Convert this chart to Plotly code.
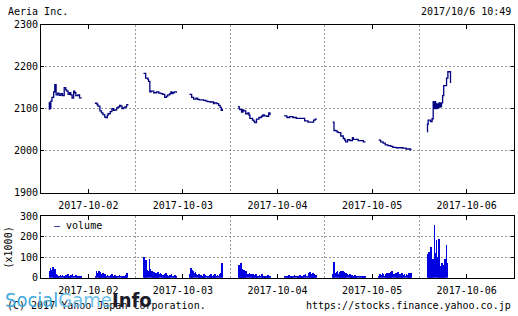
import plotly.graph_objects as go

# ---------------- data ----------------
days = ["2017-10-02", "2017-10-03", "2017-10-04", "2017-10-05", "2017-10-06"]

# intraday price (step line); None = lunch break
t_1002 = ["09:00","09:02","09:04","09:06","09:09","09:14","09:22","09:27","09:33","09:40","09:47","09:55",
          "10:02","10:10","10:17","10:22","10:28","10:35","10:40","10:46","10:53","10:58","11:03","11:13",
          "11:20","11:30",None,
          "12:30","12:40","12:44","12:53","13:00","13:07","13:15","13:20","13:27","13:30","13:40","13:48",
          "13:55","14:02","14:10","14:16","14:23","14:29","14:34","14:40","14:47","14:55","15:00"]
p_1002 = [2115,2099,2112,2101,2118,2127,2140,2157,2133,2137,2132,2136,
          2131,2150,2145,2142,2134,2138,2133,2125,2142,2138,2131,2133,
          2126,2126,None,
          2113,2110,2106,2095,2090,2086,2080,2079,2084,2088,2093,2100,
          2096,2097,2102,2104,2108,2106,2100,2102,2104,2109,2111]

t_1003 = ["09:00","09:10","09:20","09:23","09:29","09:35","09:47","10:00","10:10","10:20","10:28","10:37",
          "10:45","10:51","11:00","11:05","11:10","11:14","11:20","11:30",None,
          "12:30","12:40","12:49","13:00","13:07","13:15","13:21","13:35","13:45","13:53","14:05","14:11",
          "14:20","14:25","14:35","14:43","14:50","14:55","15:00"]
p_1003 = [2184,2173,2170,2165,2140,2142,2138,2140,2137,2136,2134,2127,
          2130,2133,2136,2140,2136,2138,2140,2138,None,
          2134,2127,2123,2125,2122,2121,2121,2120,2118,2117,2116,2116,
          2112,2114,2112,2108,2103,2096,2099]

t_1004 = ["09:00","09:05","09:08","09:16","09:22","09:26","09:35","09:45","09:50","09:54","10:06","10:12",
          "10:16","10:24","10:35","10:47","10:53","11:00","11:10","11:20","11:25","11:30",None,
          "12:30","12:43","12:55","13:10","13:26","13:49","14:04","14:19","14:34","14:45","14:52","15:00"]
p_1004 = [2105,2100,2098,2092,2097,2095,2088,2090,2085,2077,2073,2070,
          2067,2075,2079,2082,2085,2083,2082,2090,2087,2087,None,
          2083,2079,2081,2079,2077,2077,2071,2068,2068,2073,2075,2075]

t_1005 = ["09:00","09:05","09:06","09:15","09:20","09:25","09:37","09:48","09:55","09:59","10:08","10:19",
          "10:30","10:34","10:44","10:56","11:08","11:20","11:30",None,
          "12:30","12:39","12:50","13:00","13:12","13:25","13:35","13:50","14:05","14:20","14:35","14:50",
          "14:55","15:00"]
p_1005 = [2068,2067,2048,2047,2045,2043,2035,2029,2025,2021,2026,2024,
          2031,2027,2027,2024,2024,2021,2021,None,
          2025,2021,2018,2014,2012,2010,2008,2007,2007,2006,2004,2004,
          2002,2002]

t_1006 = ["09:00","09:01","09:04","09:15","09:22","09:27","09:29","09:31","09:33","09:36","09:38","09:41",
          "09:44","09:47","09:50","09:53","09:56","09:59","10:02","10:05","10:10","10:15","10:28","10:34",
          "10:46"]
p_1006 = [2045,2063,2073,2069,2076,2117,2100,2115,2102,2117,2100,2112,
          2101,2110,2102,2114,2104,2113,2105,2114,2131,2155,2173,2188,
          2161]

# 5-minute volume (x1000): 30 morning bars then 30 afternoon bars
v_1002 = [30,45,38,50,28,40,15,12,10,8,12,10,14,8,10,12,9,15,10,8,12,18,10,8,12,9,6,8,5,4,
          10,32,20,30,25,18,15,22,12,15,10,12,8,10,14,18,10,8,12,10,6,8,12,10,8,6,10,8,12,20]
v_1003 = [100,40,85,35,30,92,40,30,25,28,20,15,20,25,18,22,15,12,10,15,20,12,10,8,12,15,10,8,12,8,
          15,45,35,30,20,25,15,12,18,10,12,8,10,15,12,10,8,10,12,15,10,8,12,15,10,12,8,15,20,70]
v_1004 = [60,30,72,40,25,35,20,30,18,15,22,15,12,18,10,12,15,10,8,12,10,15,8,10,6,8,10,12,8,10,
          8,10,6,8,12,10,6,8,10,12,8,6,10,8,12,10,8,10,12,15,10,8,20,25,15,10,22,18,10,12]
v_1005 = [15,76,20,25,30,18,28,34,22,30,25,15,20,18,12,15,10,12,8,10,12,8,10,6,8,10,8,6,5,8,
          10,15,12,20,15,10,18,22,15,20,12,25,30,18,15,20,12,28,15,10,18,22,12,15,10,18,12,20,15,22]
v_1006 = [115,125,60,150,70,90,255,120,185,100,190,55,45,70,40,60,90,160,72]

price_days = [(t_1002, p_1002), (t_1003, p_1003), (t_1004, p_1004), (t_1005, p_1005), (t_1006, p_1006)]
volume_days = [v_1002, v_1003, v_1004, v_1005, v_1006]

price_ticks = [1900, 2000, 2100, 2200, 2300]
volume_ticks = [0, 100, 200, 300]

# ---------------- x scale: each day is one unit, 08:24 .. 15:36 ----------------
DAY_START = 8.4
DAY_SPAN = 7.2


def xpos(day, hhmm):
    if hhmm is None:
        return None
    h, m = hhmm.split(":")
    return day + (int(h) + int(m) / 60 - DAY_START) / DAY_SPAN


def day_frac(mins):
    return (mins / 60 - DAY_START) / DAY_SPAN


def bar_time(i):
    base = 9 * 60 if i < 30 else 12 * 60 + 30
    mins = base + 5 * (i % 30) + 2.5
    return day_frac(mins)


W, H = 518, 316
X0, X1 = 41, 514
PY0, PY1 = 19.5, 194
VY0, VY1 = 218.5, 282.5

FONT = "DejaVu Sans Mono, Liberation Mono, monospace"
GRID = "#9a9a9a"
DASH = "2px,2px"

fig = go.Figure()

for d, (tt, pp) in enumerate(price_days):
    fig.add_trace(go.Scatter(
        x=[xpos(d, t) for t in tt], y=pp, mode="lines",
        line=dict(shape="hv", color="#000080", width=1.3),
        connectgaps=False, showlegend=False, hoverinfo="skip",
        xaxis="x", yaxis="y"))

bx, by = [], []
for d, vv in enumerate(volume_days):
    for i, v in enumerate(vv):
        bx.append(d + bar_time(i))
        by.append(v)
fig.add_trace(go.Bar(
    x=bx, y=by, width=0.7 * 5 / 60 / DAY_SPAN, marker=dict(color="#0000e0", line=dict(width=0)),
    showlegend=False, hoverinfo="skip", xaxis="x2", yaxis="y2"))

tickfont = dict(family=FONT, size=10, color="#000")


def xaxis_def(anchor):
    return dict(
        domain=[X0 / W, X1 / W], anchor=anchor, range=[0, 5],
        tickmode="array", tickvals=[i + 0.5 for i in range(5)], ticktext=days,
        ticks="inside", ticklen=4, tickcolor="#000", showgrid=False, zeroline=False,
        showline=True, linecolor="#000", linewidth=1, mirror="ticks",
        tickfont=tickfont, ticklabelstandoff=3,
        minor=dict(tickmode="array", tickvals=[1, 2, 3, 4], showgrid=True,
                   gridcolor=GRID, griddash=DASH, gridwidth=1, ticks=""))


def yaxis_def(anchor, y0, y1, rng, vals):
    return dict(
        domain=[1 - y1 / H, 1 - y0 / H], anchor=anchor, range=rng,
        tickmode="array", tickvals=vals, ticks="inside", ticklen=3, tickcolor="#000",
        showgrid=True, gridcolor=GRID, griddash=DASH, gridwidth=1, zeroline=False,
        showline=True, linecolor="#000", linewidth=1, mirror="ticks",
        tickfont=tickfont)


fig.update_layout(
    width=W, height=H, autosize=False,
    margin=dict(l=0, r=0, t=0, b=0, pad=0),
    paper_bgcolor="#fff", plot_bgcolor="#fff",
    bargap=0,
    xaxis=xaxis_def("y"),
    yaxis=yaxis_def("x", PY0, PY1, [1900, 2300], price_ticks),
    xaxis2=xaxis_def("y2"),
    yaxis2=yaxis_def("x2", VY0, VY1, [0, 300], volume_ticks),
)

txt = dict(family=FONT, size=10, color="#000")
ann = [
    dict(text="Aeria Inc.", x=6 / W, y=1 - 5.5 / H, xanchor="left", yanchor="middle"),
    dict(text="2017/10/6 10:49", x=513 / W, y=1 - 5.5 / H, xanchor="right", yanchor="middle"),
    dict(text="(x1000)", x=8 / W, y=1 - 251 / H, xanchor="center", yanchor="middle", textangle=-90),
    dict(text="<span style='color:#000080'>–</span> volume", x=52 / W, y=1 - 228 / H,
         xanchor="left", yanchor="middle"),
    dict(text="(C) 2017 Yahoo Japan Corporation.", x=5 / W, y=1 - 311.5 / H,
         xanchor="left", yanchor="middle"),
    dict(text="https://stocks.finance.yahoo.co.jp", x=513 / W, y=1 - 311.5 / H,
         xanchor="right", yanchor="middle"),
]
for a in ann:
    a.update(xref="paper", yref="paper", showarrow=False, font=txt)
    fig.add_annotation(**a)

fig.add_annotation(
    text="<span style='color:#3fa9dd'>Social</span><span style='color:#6fbee8'>Game</span>"
         "<b><span style='color:#1c1c2a'>Info</span></b>",
    x=3 / W, y=1 - 306 / H, xref="paper", yref="paper", xanchor="left", yanchor="middle",
    showarrow=False,
    font=dict(family="Liberation Sans Narrow, Arial Narrow, DejaVu Sans Condensed, Liberation Sans, sans-serif",
              size=20))

fig.write_html("out.html")
